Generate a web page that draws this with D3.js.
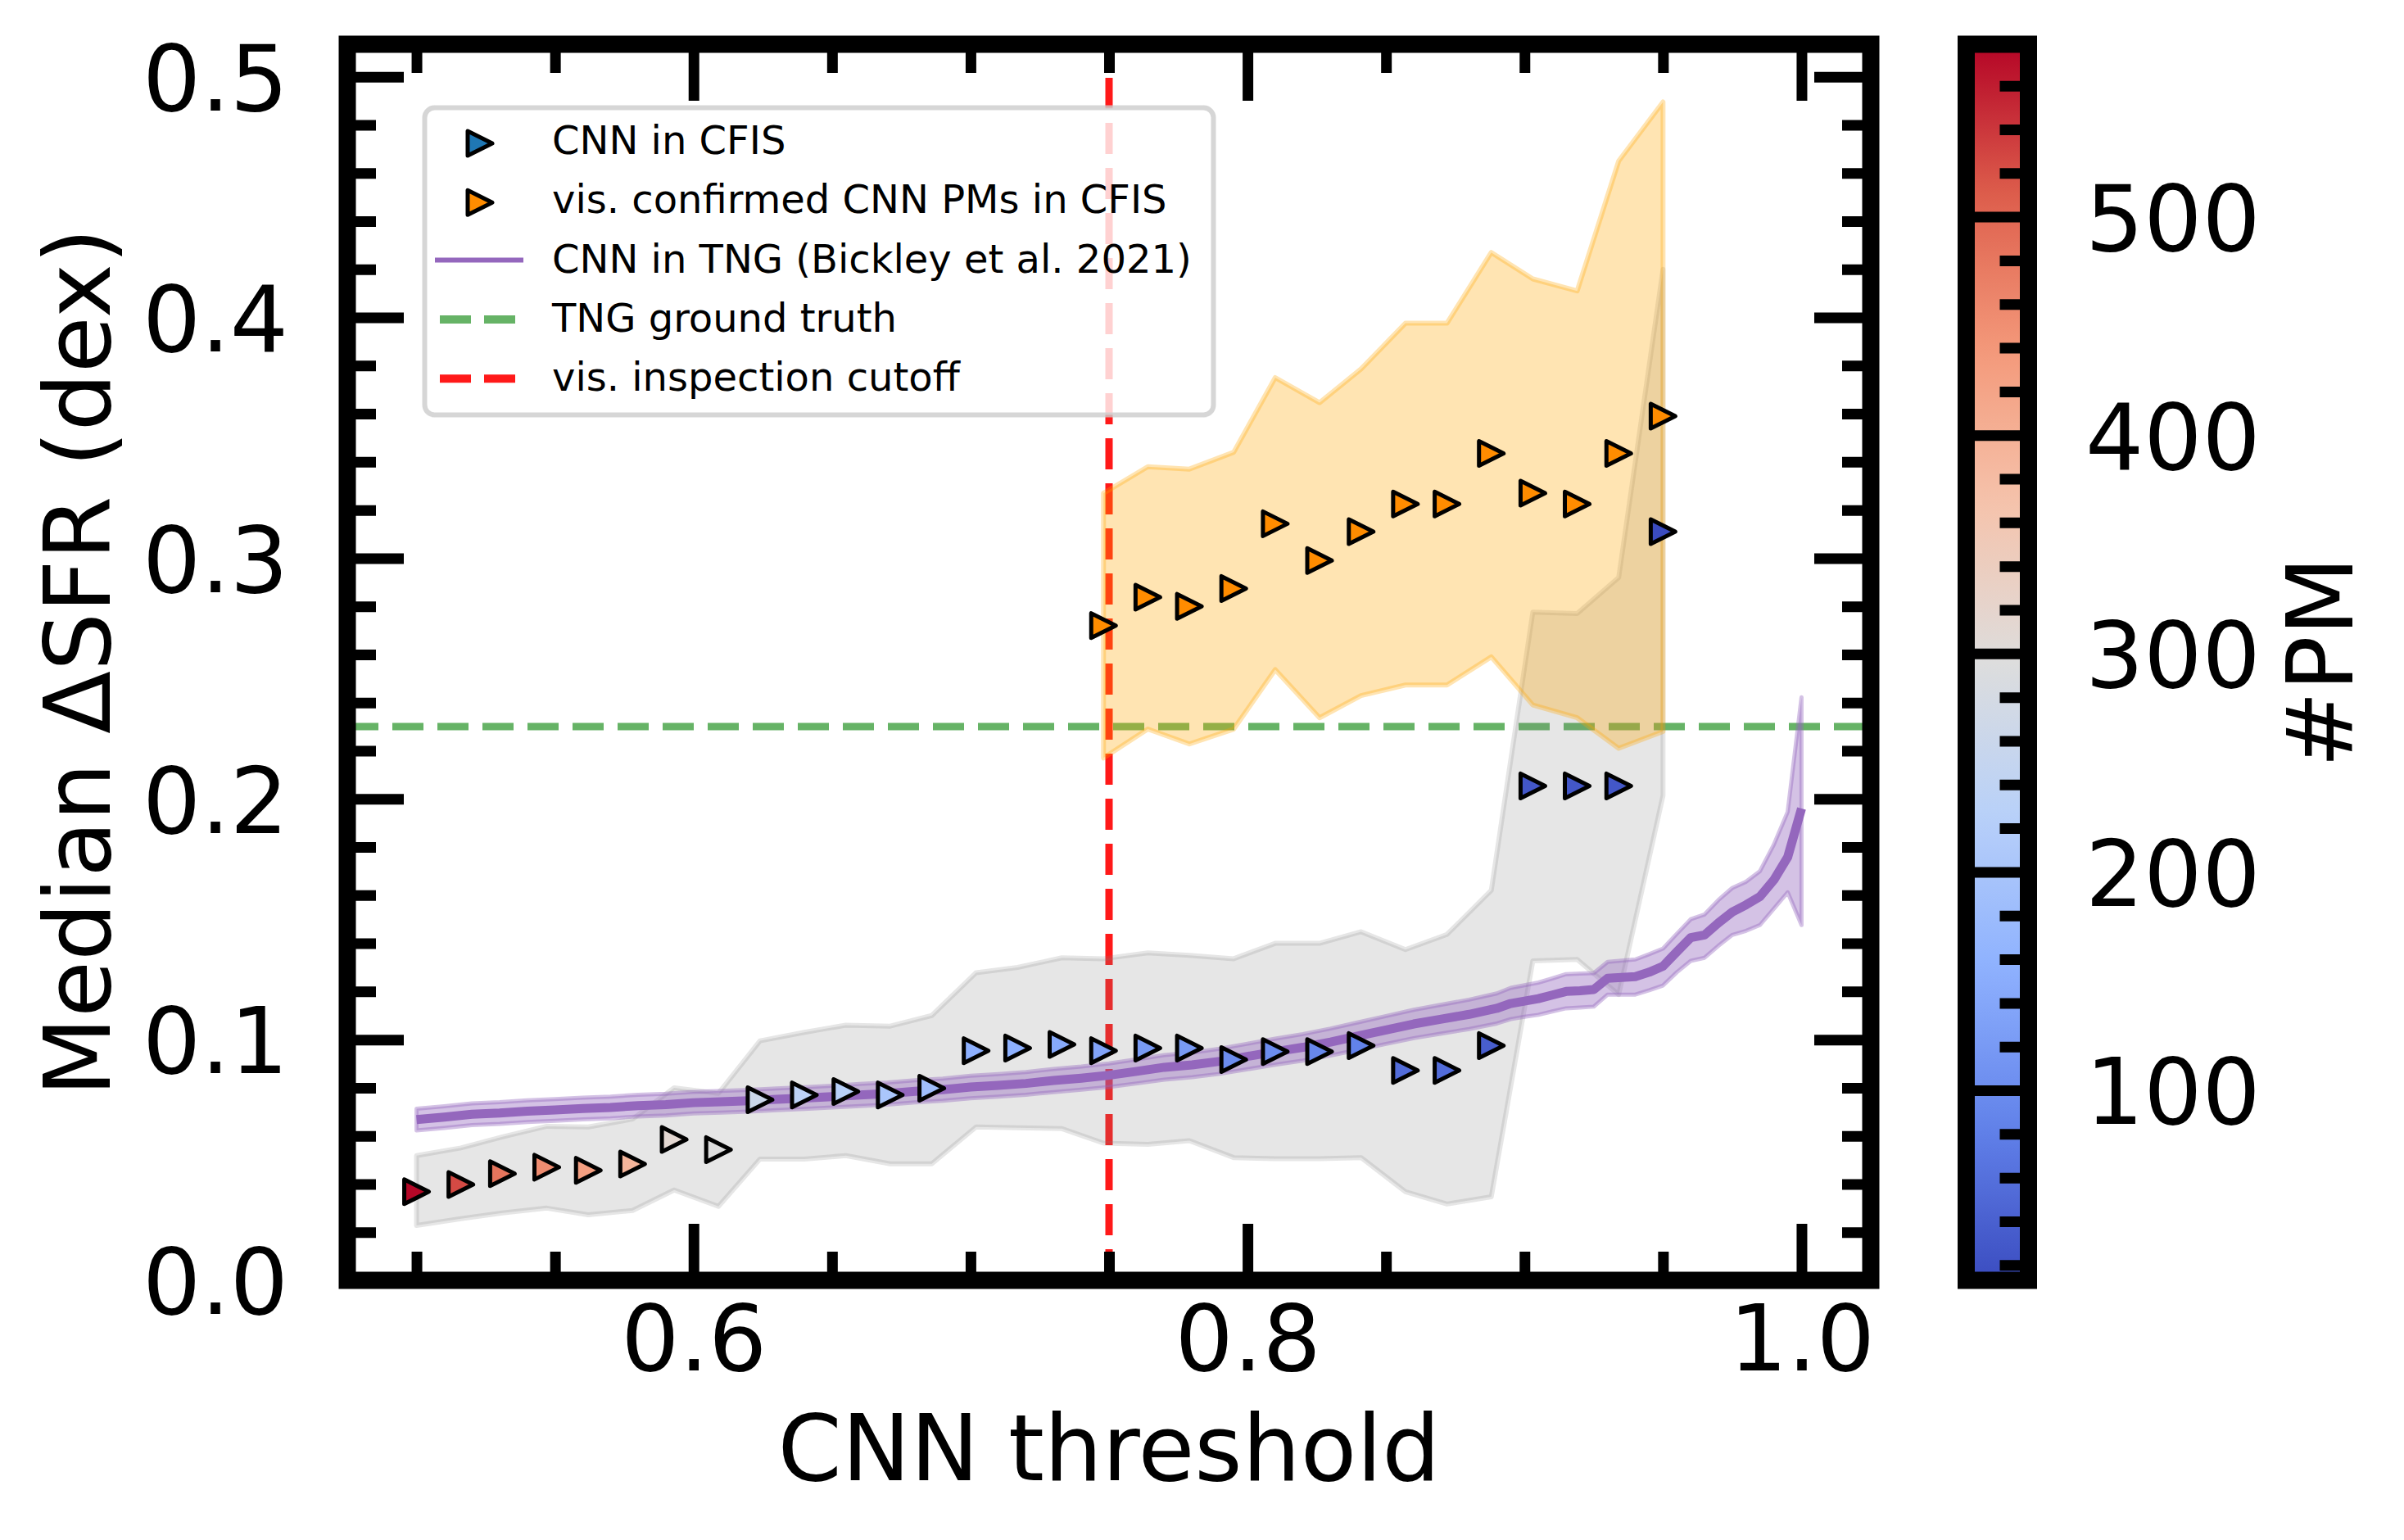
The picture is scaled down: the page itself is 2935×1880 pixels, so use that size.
<!DOCTYPE html>
<html>
<head>
<meta charset="utf-8">
<script src="https://cdn.jsdelivr.net/npm/d3@7"></script>
<style>
  body { margin: 0; background: #fff; }
  svg { display: block; }
  text { font-family: "DejaVu Sans", sans-serif; fill: #000; }
</style>
</head>
<body>
<div class="chart"></div>
<script>
// CNN thresholds used for the CFIS medians
const thresholds = [0.500, 0.516, 0.531, 0.547, 0.562, 0.578, 0.593, 0.609, 0.624, 0.640,
                    0.655, 0.671, 0.686, 0.702, 0.717, 0.733, 0.748, 0.764, 0.779, 0.795,
                    0.810, 0.826, 0.841, 0.857, 0.872, 0.888, 0.903, 0.919, 0.934, 0.950];
// CNN in CFIS: median dSFR, spread, and number of PMs (colour)
const cfisMedian = [0.0368, 0.0398, 0.0443, 0.0470, 0.0457, 0.0483, 0.0585, 0.0543, 0.0750, 0.0770,
                    0.0784, 0.0770, 0.0798, 0.0954, 0.0965, 0.0980, 0.0954, 0.0965, 0.0965, 0.0917,
                    0.0950, 0.0950, 0.0975, 0.0872, 0.0872, 0.0975, 0.2054, 0.2054, 0.2054, 0.3110];
const cfisLo = [0.0228, 0.0256, 0.0280, 0.0300, 0.0272, 0.0290, 0.0375, 0.0307, 0.0504, 0.0504,
                0.0518, 0.0484, 0.0484, 0.0637, 0.0634, 0.0630, 0.0570, 0.0565, 0.0580, 0.0510,
                0.0505, 0.0505, 0.0510, 0.0368, 0.0317, 0.0347, 0.1327, 0.1333, 0.1187, 0.2014];
const cfisHi = [0.0518, 0.0550, 0.0596, 0.0640, 0.0637, 0.0670, 0.0800, 0.0777, 0.0995, 0.1030,
                0.1060, 0.1056, 0.1100, 0.1278, 0.1300, 0.1340, 0.1336, 0.1360, 0.1350, 0.1336,
                0.1400, 0.1400, 0.1448, 0.1374, 0.1437, 0.1620, 0.2776, 0.2770, 0.2920, 0.4200];
const nPM = [577, 525, 483, 455, 429, 392, 313, 296, 262, 234,
             225, 203, 186, 155, 155, 143, 135, 120, 120, 101,
             101, 92, 84, 55, 55, 36, 27, 27, 27, 13];

// visually confirmed CNN PMs in CFIS
const visX = [0.748, 0.764, 0.779, 0.795, 0.810, 0.826, 0.841, 0.857, 0.872, 0.888, 0.903, 0.919, 0.934, 0.950];
const visMedian = [0.272, 0.2838, 0.280, 0.2874, 0.3143, 0.299, 0.311, 0.3225, 0.3225, 0.3435, 0.327, 0.3225, 0.3435, 0.359];
const visLo = [0.217, 0.229, 0.2228, 0.229, 0.2537, 0.2337, 0.2429, 0.2473, 0.2473, 0.259, 0.239, 0.2337, 0.221, 0.228];
const visHi = [0.327, 0.338, 0.337, 0.344, 0.375, 0.3646, 0.3786, 0.3976, 0.3976, 0.427, 0.416, 0.411, 0.465, 0.4895];

// CNN in TNG (Bickley et al. 2021)
const tngX = [0.50, 0.51, 0.52, 0.53, 0.54, 0.55, 0.56, 0.57, 0.58, 0.59,
              0.60, 0.61, 0.62, 0.63, 0.64, 0.65, 0.66, 0.67, 0.68, 0.69,
              0.70, 0.71, 0.72, 0.73, 0.74, 0.75, 0.76, 0.77, 0.78, 0.79,
              0.80, 0.81, 0.82, 0.83, 0.84, 0.85, 0.86, 0.87, 0.88, 0.89,
              0.895, 0.900, 0.905, 0.910, 0.915, 0.920, 0.925, 0.930, 0.935, 0.940,
              0.945, 0.950, 0.955, 0.960, 0.965, 0.970, 0.975, 0.980, 0.985, 0.990,
              0.995, 1.000];
const tngMedian = [0.0668, 0.0678, 0.0690, 0.0695, 0.0703, 0.0708, 0.0714, 0.0718, 0.0726, 0.0730,
                   0.0738, 0.0742, 0.0746, 0.0752, 0.0757, 0.0763, 0.0770, 0.0776, 0.0785, 0.0792,
                   0.0803, 0.0810, 0.0818, 0.0830, 0.0840, 0.0852, 0.0868, 0.0885, 0.0895, 0.0910,
                   0.0930, 0.0950, 0.0968, 0.0990, 0.1015, 0.1040, 0.1065, 0.1085, 0.1105, 0.1130,
                   0.1150, 0.1160, 0.1170, 0.1185, 0.1200, 0.1203, 0.1208, 0.1255, 0.1258, 0.1262,
                   0.1280, 0.1305, 0.1365, 0.1424, 0.1435, 0.1485, 0.1530, 0.1560, 0.1594, 0.1663,
                   0.1758, 0.1960];
const tngLo = [0.0623, 0.0633, 0.0645, 0.0650, 0.0658, 0.0663, 0.0669, 0.0673, 0.0681, 0.0685,
               0.0693, 0.0697, 0.0701, 0.0707, 0.0712, 0.0718, 0.0724, 0.0730, 0.0739, 0.0746,
               0.0756, 0.0763, 0.0771, 0.0782, 0.0792, 0.0803, 0.0818, 0.0834, 0.0844, 0.0858,
               0.0877, 0.0896, 0.0913, 0.0934, 0.0958, 0.0982, 0.1006, 0.1025, 0.1044, 0.1067,
               0.1085, 0.1095, 0.1103, 0.1117, 0.1130, 0.1133, 0.1137, 0.1187, 0.1187, 0.1187,
               0.1205, 0.1225, 0.1280, 0.1327, 0.1340, 0.1390, 0.1435, 0.1452, 0.1476, 0.1544,
               0.1612, 0.1476];
const tngHi = [0.0713, 0.0723, 0.0735, 0.0740, 0.0748, 0.0753, 0.0759, 0.0763, 0.0771, 0.0775,
               0.0783, 0.0787, 0.0791, 0.0797, 0.0802, 0.0808, 0.0816, 0.0822, 0.0831, 0.0838,
               0.0850, 0.0857, 0.0865, 0.0878, 0.0888, 0.0901, 0.0918, 0.0936, 0.0946, 0.0962,
               0.0983, 0.1004, 0.1023, 0.1046, 0.1072, 0.1098, 0.1124, 0.1145, 0.1166, 0.1192,
               0.1215, 0.1226, 0.1237, 0.1254, 0.1272, 0.1274, 0.1276, 0.1323, 0.1328, 0.1333,
               0.1355, 0.1378, 0.1440, 0.1500, 0.1520, 0.1580, 0.1630, 0.1656, 0.1700, 0.1810,
               0.1946, 0.2422];

const tngTruth = 0.23;
const visCutoff = 0.75;

const xTicks = [0.6, 0.8, 1.0];
const yTicks = [0.0, 0.1, 0.2, 0.3, 0.4, 0.5];
const pmTicks = [100, 200, 300, 400, 500];
const pmRange = [13, 579];

// matplotlib coolwarm anchor colours
const coolwarmStops = ["#3b4cc0", "#6282ea", "#8db0fe", "#b8d0f9", "#dddddd",
                       "#f5c4ad", "#f49a7b", "#de604d", "#b40426"];

const legendItems = [
  {label: "CNN in CFIS", type: "marker", color: "#1f77b4"},
  {label: "vis. confirmed CNN PMs in CFIS", type: "marker", color: "#ff8c00"},
  {label: "CNN in TNG (Bickley et al. 2021)", type: "line", color: "#9467bd"},
  {label: "TNG ground truth", type: "dash", color: "#008000", opacity: 0.6},
  {label: "vis. inspection cutoff", type: "dash", color: "#ff0000", opacity: 0.9}
];

var width = 2935, height = 1880;
var box = {left: 424, right: 2284, top: 54, bottom: 1563};
var font = 112;

const svg = d3.select(".chart").append("svg")
    .attr("width", width)
    .attr("height", height);

const xScale = d3.scaleLinear().domain([0.475, 1.025]).range([box.left, box.right]);
const yScale = d3.scaleLinear().domain([0, 0.5135]).range([box.bottom, box.top]);
const cmap = d3.piecewise(d3.interpolateRgb, coolwarmStops);
const pmNorm = d3.scaleLinear().domain(pmRange).range([0, 1]).clamp(true);
const colour = v => cmap(pmNorm(v));

const defs = svg.append("defs");
defs.append("clipPath").attr("id", "clip")
  .append("rect")
    .attr("x", box.left).attr("y", box.top)
    .attr("width", box.right - box.left).attr("height", box.bottom - box.top);

const plot = svg.append("g").attr("clip-path", "url(#clip)");

// cutoff + ground truth lines (under the bands)
plot.append("line")
    .attr("x1", xScale(visCutoff)).attr("x2", xScale(visCutoff))
    .attr("y1", box.bottom).attr("y2", box.top)
    .attr("stroke", "#ff0000").attr("stroke-opacity", 0.9)
    .attr("stroke-width", 9).attr("stroke-dasharray", "38,17");

plot.append("line")
    .attr("x1", box.left).attr("x2", box.right)
    .attr("y1", yScale(tngTruth)).attr("y2", yScale(tngTruth))
    .attr("stroke", "#008000").attr("stroke-opacity", 0.6)
    .attr("stroke-width", 9).attr("stroke-dasharray", "38,17");

// gray spread of CNN in CFIS
const cfis = thresholds.map((t, i) => ({x: t, m: cfisMedian[i], lo: cfisLo[i], hi: cfisHi[i], pm: nPM[i]}));
const band = d3.area()
    .x(d => xScale(d.x))
    .y0(d => yScale(d.lo))
    .y1(d => yScale(d.hi));

plot.append("path")
    .datum(cfis)
    .attr("d", band)
    .attr("fill", "#808080").attr("fill-opacity", 0.2)
    .attr("stroke", "#808080").attr("stroke-opacity", 0.2)
    .attr("stroke-width", 6).attr("stroke-linejoin", "round");

// TNG band + median
const tng = tngX.map((t, i) => ({x: t, m: tngMedian[i], lo: tngLo[i], hi: tngHi[i]}));
plot.append("path")
    .datum(tng)
    .attr("d", band)
    .attr("fill", "#9467bd").attr("fill-opacity", 0.4)
    .attr("stroke", "#9467bd").attr("stroke-opacity", 0.4)
    .attr("stroke-width", 5).attr("stroke-linejoin", "round");

plot.append("path")
    .datum(tng)
    .attr("d", d3.line().x(d => xScale(d.x)).y(d => yScale(d.m)))
    .attr("fill", "none")
    .attr("stroke", "#9467bd")
    .attr("stroke-width", 11)
    .attr("stroke-linejoin", "round");

// visually confirmed band
const vis = visX.map((t, i) => ({x: t, m: visMedian[i], lo: visLo[i], hi: visHi[i]}));
plot.append("path")
    .datum(vis)
    .attr("d", band)
    .attr("fill", "#ffa500").attr("fill-opacity", 0.3)
    .attr("stroke", "#ffa500").attr("stroke-opacity", 0.3)
    .attr("stroke-width", 6).attr("stroke-linejoin", "round");

// right-pointing triangle marker
const ms = 30;
const tri = `M${ms / 2},0L${-ms / 2},${-ms / 2}L${-ms / 2},${ms / 2}Z`;

plot.selectAll(".cfis-pt")
  .data(cfis)
  .enter().append("path")
    .attr("class", "cfis-pt")
    .attr("d", tri)
    .attr("transform", d => `translate(${xScale(d.x)},${yScale(d.m)})`)
    .attr("fill", d => colour(d.pm))
    .attr("stroke", "#000").attr("stroke-width", 5)
    .attr("stroke-linejoin", "round");

plot.selectAll(".vis-pt")
  .data(vis)
  .enter().append("path")
    .attr("class", "vis-pt")
    .attr("d", tri)
    .attr("transform", d => `translate(${xScale(d.x)},${yScale(d.m)})`)
    .attr("fill", "#ff8c00")
    .attr("stroke", "#000").attr("stroke-width", 5)
    .attr("stroke-linejoin", "round");

// legend
const lg = svg.append("g").attr("class", "legend");
lg.append("rect")
    .attr("x", 518.5).attr("y", 131.5)
    .attr("width", 963).attr("height", 375)
    .attr("rx", 12)
    .attr("fill", "#fff").attr("fill-opacity", 0.8)
    .attr("stroke", "#cccccc").attr("stroke-opacity", 0.8)
    .attr("stroke-width", 6);

legendItems.forEach((it, i) => {
  const base = 188 + i * 72.3;
  const cy = base - 15;
  const row = lg.append("g");
  if (it.type === "marker") {
    row.append("path")
        .attr("d", tri)
        .attr("transform", `translate(586,${cy + 2})`)
        .attr("fill", it.color)
        .attr("stroke", "#000").attr("stroke-width", 5)
        .attr("stroke-linejoin", "round");
  } else if (it.type === "line") {
    row.append("line")
        .attr("x1", 531).attr("x2", 639).attr("y1", cy).attr("y2", cy)
        .attr("stroke", it.color).attr("stroke-width", 6);
  } else {
    row.append("line")
        .attr("x1", 537).attr("x2", 639).attr("y1", cy).attr("y2", cy)
        .attr("stroke", it.color).attr("stroke-opacity", it.opacity)
        .attr("stroke-width", 10).attr("stroke-dasharray", "38,16");
  }
  row.append("text")
      .attr("x", 674).attr("y", base)
      .attr("font-size", 48)
      .text(it.label);
});

// axes: ticks point inward on all four sides
const xMinor = d3.range(0.5, 1.0001, 0.05).filter(v => Math.abs(v * 5 - Math.round(v * 5)) > 1e-6);
const yMinor = d3.range(0.02, 0.52, 0.02).filter(v => Math.abs(v * 10 - Math.round(v * 10)) > 1e-6);

function styleAxis(g) {
  g.select(".domain").remove();
  g.selectAll(".tick line").attr("stroke", "#000").attr("stroke-width", 13);
  g.attr("font-size", font).attr("font-family", "DejaVu Sans, sans-serif");
}

svg.append("g")
    .attr("transform", `translate(0,${box.bottom})`)
    .call(d3.axisBottom(xScale).tickValues(xTicks).tickSize(-69).tickPadding(30).tickFormat(d3.format(".1f")))
    .call(styleAxis);
svg.append("g")
    .attr("transform", `translate(0,${box.bottom})`)
    .call(d3.axisBottom(xScale).tickValues(xMinor).tickSize(-35).tickFormat(() => ""))
    .call(styleAxis);
svg.append("g")
    .attr("transform", `translate(0,${box.top})`)
    .call(d3.axisTop(xScale).tickValues(xTicks).tickSize(-69).tickFormat(() => ""))
    .call(styleAxis);
svg.append("g")
    .attr("transform", `translate(0,${box.top})`)
    .call(d3.axisTop(xScale).tickValues(xMinor).tickSize(-35).tickFormat(() => ""))
    .call(styleAxis);

const yAxisG = svg.append("g")
    .attr("transform", `translate(${box.left},0)`)
    .call(d3.axisLeft(yScale).tickValues(yTicks).tickSize(-69).tickPadding(72).tickFormat(d3.format(".1f")))
    .call(styleAxis);
yAxisG.selectAll(".tick text").attr("dy", "0.3645em");
svg.append("g")
    .attr("transform", `translate(${box.left},0)`)
    .call(d3.axisLeft(yScale).tickValues(yMinor).tickSize(-35).tickFormat(() => ""))
    .call(styleAxis);
svg.append("g")
    .attr("transform", `translate(${box.right},0)`)
    .call(d3.axisRight(yScale).tickValues(yTicks).tickSize(-69).tickFormat(() => ""))
    .call(styleAxis);
svg.append("g")
    .attr("transform", `translate(${box.right},0)`)
    .call(d3.axisRight(yScale).tickValues(yMinor).tickSize(-35).tickFormat(() => ""))
    .call(styleAxis);

// frame
svg.append("rect")
    .attr("x", box.left).attr("y", box.top)
    .attr("width", box.right - box.left).attr("height", box.bottom - box.top)
    .attr("fill", "none").attr("stroke", "#000").attr("stroke-width", 21);

svg.append("text")
    .attr("x", (box.left + box.right) / 2).attr("y", 1807)
    .attr("text-anchor", "middle").attr("font-size", font)
    .text("CNN threshold");

svg.append("text")
    .attr("transform", `translate(134,${(box.top + box.bottom) / 2}) rotate(-90)`)
    .attr("text-anchor", "middle").attr("font-size", font)
    .text("Median \u0394SFR (dex)");

// colorbar
var cb = {left: 2400.5, right: 2476.5};
const cbScale = d3.scaleLinear().domain(pmRange).range([box.bottom, box.top]);
const grad = defs.append("linearGradient")
    .attr("id", "cbgrad")
    .attr("x1", 0).attr("y1", 1).attr("x2", 0).attr("y2", 0);
grad.selectAll("stop")
  .data(d3.range(0, 1.0001, 0.02))
  .enter().append("stop")
    .attr("offset", d => d)
    .attr("stop-color", d => cmap(d));

svg.append("rect")
    .attr("x", cb.left).attr("y", box.top)
    .attr("width", cb.right - cb.left).attr("height", box.bottom - box.top)
    .attr("fill", "url(#cbgrad)");

const pmMinor = d3.range(20, 579, 20).filter(v => v % 100 !== 0);
svg.append("g")
    .attr("transform", `translate(${cb.right},0)`)
    .call(d3.axisRight(cbScale).tickValues(pmMinor).tickSize(-35).tickFormat(() => ""))
    .call(styleAxis);
const cbAxis = svg.append("g")
    .attr("transform", `translate(${cb.right},0)`)
    .call(d3.axisRight(cbScale).tickValues(pmTicks).tickSize(-69).tickPadding(69.5))
    .call(styleAxis);
cbAxis.selectAll(".tick text").attr("dy", "0.3645em");

svg.append("rect")
    .attr("x", cb.left).attr("y", box.top)
    .attr("width", cb.right - cb.left).attr("height", box.bottom - box.top)
    .attr("fill", "none").attr("stroke", "#000").attr("stroke-width", 21);

svg.append("text")
    .attr("transform", `translate(2872,${(box.top + box.bottom) / 2}) rotate(-90)`)
    .attr("text-anchor", "middle").attr("font-size", font)
    .text("#PM");
</script>
</body>
</html>
